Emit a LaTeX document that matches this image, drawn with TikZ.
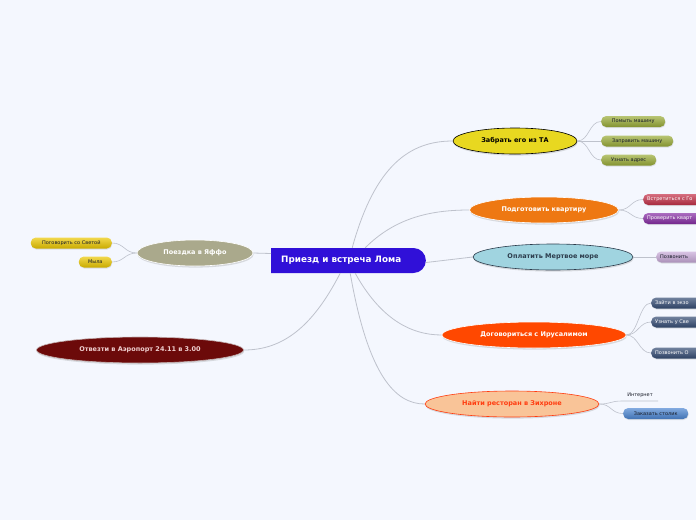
\documentclass[tikz,border=0pt]{standalone}
\usepackage{fontspec}
\setmainfont{DejaVu Sans}
\usetikzlibrary{positioning,shapes.geometric,shapes.misc,shadows}
\definecolor{mapbg}{RGB}{244,247,254}
\definecolor{linkgrey}{RGB}{190,194,204}
\definecolor{rootblue}{RGB}{48,16,216}
\definecolor{tayellow}{RGB}{232,216,32}
\definecolor{flatorange}{RGB}{238,120,18}
\definecolor{seablue}{RGB}{160,212,224}
\definecolor{seatext}{RGB}{44,60,76}
\definecolor{jerred}{RGB}{255,72,0}
\definecolor{restpeach}{RGB}{249,196,152}
\definecolor{resttext}{RGB}{255,60,16}
\definecolor{jaffagrey}{RGB}{170,169,140}
\definecolor{airred}{RGB}{108,10,10}
\definecolor{airtext}{RGB}{240,208,208}
\definecolor{leafolive}{RGB}{154,172,56}
\definecolor{leafcrimson}{RGB}{196,48,72}
\definecolor{leafpurple}{RGB}{134,44,164}
\definecolor{leaflav}{RGB}{200,170,216}
\definecolor{leafnavy}{RGB}{52,76,116}
\definecolor{leafblue}{RGB}{76,134,210}
\definecolor{leafyellow}{RGB}{236,200,0}
\definecolor{leaftext}{RGB}{24,28,40}

\tikzset{
  link/.style={draw=linkgrey, line width=0.8pt},
  sublink/.style={draw=linkgrey, line width=0.6pt},
  topic/.style={ellipse, minimum height=26pt, inner sep=0pt, line width=0.6pt,
    font=\fontsize{6.5}{7}\selectfont\bfseries,
    drop shadow={opacity=0.25, shadow xshift=0.6pt, shadow yshift=-1.6pt}},
  leaf/.style={rounded corners=5pt, minimum height=11pt, inner sep=0pt, anchor=west,
    font=\fontsize{5}{6}\selectfont,
    drop shadow={opacity=0.2, shadow xshift=0.4pt, shadow yshift=-1pt}},
  leafcut/.style={leaf, text width=62pt, align=left, inner xsep=4pt},
  leafcol/.style={top color=#1!70!white, bottom color=#1!85!black},
}

\begin{document}
\begin{tikzpicture}[x=1pt,y=-1pt]
  \clip (0,0) rectangle (696,520);
  \useasboundingbox (0,0) rectangle (696,520);
  \fill[mapbg] (0,0) rectangle (696,520);

  % centre of the map
  \node[rounded rectangle, rounded rectangle left arc=none, fill=rootblue,
        minimum height=25pt, inner xsep=10pt, inner ysep=0pt, text=white,
        anchor=west, font=\fontsize{8.8}{10}\selectfont\bfseries] (root) at (271,260.5)
        {Приезд и встреча Лома\hspace*{14pt}};

  % main topics
  \node[topic, minimum width=124pt, fill=tayellow, draw=black, text=black]
        (ta) at (515,141) {Забрать его из ТА};
  \node[topic, minimum width=149pt, fill=flatorange, draw=white, text=white]
        (flat) at (544,210) {Подготовить квартиру};
  \node[topic, minimum width=160pt, fill=seablue, draw=seatext, text=seatext]
        (sea) at (553,257) {Оплатить Мертвое море};
  \node[topic, minimum width=184pt, fill=jerred, draw=white, text=white]
        (jer) at (534,335) {Договориться с Ирусалимом};
  \node[topic, minimum width=174pt, fill=restpeach, draw=resttext, text=resttext]
        (rest) at (512,404) {Найти ресторан в Зихроне};
  \node[topic, minimum width=116pt, fill=jaffagrey, draw=white, text=white]
        (jaffa) at (195,253) {Поездка в Яффо};
  \node[topic, minimum width=207pt, fill=airred, draw=airtext!60!gray, text=airtext]
        (air) at (140,350) {Отвезти в Аэропорт 24.11 в 3.00};

  % root to topics
  \draw[link] ([xshift=4pt]root.north) .. controls (375,165) and (410,141) .. (ta.west);
  \draw[link] ([xshift=17pt]root.north) .. controls (395,218) and (430,210) .. (flat.west);
  \draw[link] ([yshift=-2pt]root.east) -- (sea.west);
  \draw[link] ([xshift=7pt]root.south) .. controls (380,318) and (410,335) .. (jer.west);
  \draw[link] ([xshift=2pt]root.south) .. controls (368,375) and (395,404) .. (rest.west);
  \draw[link] ([yshift=7pt]root.west) -- (jaffa.east);
  \draw[link] ([xshift=-8pt]root.south) .. controls (312,328) and (282,350) .. (air.east);

  % leaves
  \node[leaf, leafcol=leafolive, minimum width=64pt, text=leaftext] (wash) at (601,121.5) {Помыть машину};
  \node[leaf, leafcol=leafolive, minimum width=72pt, text=leaftext] (fuel) at (601,141) {Заправить машину};
  \node[leaf, leafcol=leafolive, minimum width=55pt, text=leaftext] (addr) at (601,160) {Узнать адрес};
  \node[leafcut, leafcol=leafcrimson, text=white] (meet) at (643,199.5) {Встретиться с Го};
  \node[leafcut, leafcol=leafpurple, text=white] (check) at (643,218.5) {Проверить кварт};
  \node[leafcut, leafcol=leaflav, text=leaftext] (call) at (656,257) {Позвонить};
  \node[leafcut, leafcol=leafnavy, text=white] (exo) at (651,303) {Зайти в экзо};
  \node[leafcut, leafcol=leafnavy, text=white] (ask) at (651,322) {Узнать у Све};
  \node[leafcut, leafcol=leafnavy, text=white] (callo) at (651,353) {Позвонить О};
  \node[font=\fontsize{5}{6}\selectfont, text=leaftext] (inet) at (640,395.5) {Интернет};
  \coordinate (inetl) at (622,401);
  \coordinate (inetr) at (658,401);
  \node[leaf, leafcol=leafblue, minimum width=65pt, text=leaftext] (table) at (623,413.5) {Заказать столик};
  \node[leaf, leafcol=leafyellow, minimum width=81pt, text=leaftext, anchor=east] (talk) at (112,243) {Поговорить со Светой};
  \node[leaf, leafcol=leafyellow, minimum width=33pt, text=leaftext, anchor=east] (soap) at (112,262) {Мыла};

  % topics to leaves
  \foreach \l in {wash,fuel,addr}
    \draw[sublink] (ta.east) .. controls +(12,0) and +(-12,0) .. (\l.west);
  \foreach \l in {meet,check}
    \draw[sublink] (flat.east) .. controls +(12,0) and +(-12,0) .. (\l.west);
  \draw[sublink] (sea.east) -- (call.west);
  \foreach \l in {exo,ask,callo}
    \draw[sublink] (jer.east) .. controls +(12,0) and +(-12,0) .. (\l.west);
  \draw[sublink] (rest.east) .. controls +(12,0) and +(-12,0) .. (inetl) -- (inetr);
  \draw[sublink] (rest.east) .. controls +(12,0) and +(-12,0) .. (table.west);
  \foreach \l in {talk,soap}
    \draw[sublink] (jaffa.west) .. controls +(-12,0) and +(12,0) .. (\l.east);
\end{tikzpicture}
\end{document}
